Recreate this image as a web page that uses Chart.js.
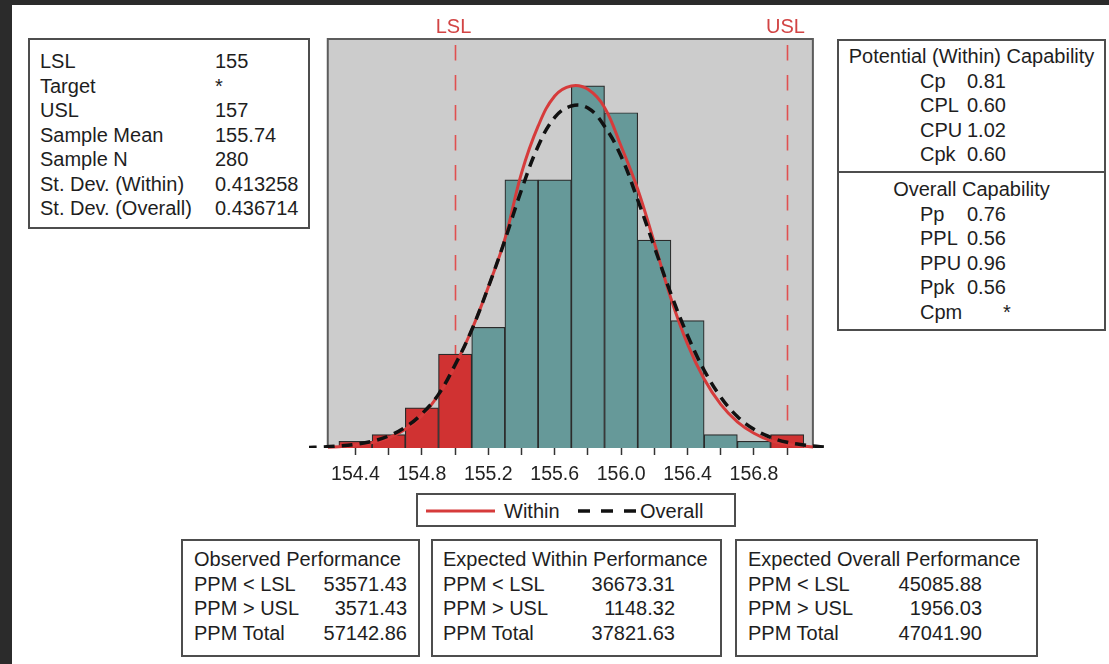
<!DOCTYPE html>
<html>
<head>
  <title>Process Capability Report</title>
  <script src="https://cdn.jsdelivr.net/npm/chart.js"></script>
  <style>
    body { margin: 0; width: 1109px; height: 664px; position: relative; overflow: hidden; background: #fff;
           font-family: "Liberation Sans", Arial, sans-serif; color: #1e1e1e; }
    #capChart { position: absolute; left: 0; top: 0; }
    .edge-top { position: absolute; left: 0; top: 0; width: 1109px; height: 5px; background: #2b2b2b; }
    .edge-left { position: absolute; left: 0; top: 0; width: 12px; height: 664px; background: #2b2b2b; }
    .box { position: absolute; box-sizing: border-box; border: 2px solid #4d4d4d; background: #fff; }
    .row { white-space: nowrap; }
    .row span { display: inline-block; }

    #stats { left: 28px; top: 38px; width: 282px; height: 191px; padding: 9px 0 0 10px; font-size: 20px; line-height: 24.5px; }
    #stats .lab { width: 175px; }

    #capab { left: 837px; top: 39px; width: 269px; height: 292px; font-size: 20px; line-height: 24.5px; }
    #capab .sect { height: 132px; border-bottom: 2px solid #4d4d4d; padding-top: 3px; box-sizing: border-box; }
    #capab .sect2 { padding-top: 4px; }
    #capab .title { text-align: center; }
    #capab .row { padding-left: 81px; }
    #capab .lab { width: 47px; }

    .perf { top: 539px; height: 118px; padding-top: 6px; font-size: 20px; line-height: 24.7px; }
    .perf .row { display: flex; justify-content: space-between; }
    #obs { left: 181px; width: 239px; padding-left: 11px; padding-right: 11px; }
    #expw { left: 431px; width: 291px; padding-left: 10px; padding-right: 45px; }
    #expo { left: 735px; width: 303px; padding-left: 11px; padding-right: 54px; }

    #legend { left: 416px; top: 493px; width: 320px; height: 34px; font-size: 20px; }
    #legend svg { position: absolute; left: 0; top: 0; }
    #legend .t { position: absolute; top: 5px; line-height: 22px; }
  </style>
</head>
<body>
  <canvas id="capChart" width="1109" height="664"></canvas>
  <div class="edge-top"></div>
  <div class="edge-left"></div>

  <div class="box" id="stats">
    <div class="row"><span class="lab">LSL</span><span>155</span></div>
    <div class="row"><span class="lab">Target</span><span>*</span></div>
    <div class="row"><span class="lab">USL</span><span>157</span></div>
    <div class="row"><span class="lab">Sample Mean</span><span>155.74</span></div>
    <div class="row"><span class="lab">Sample N</span><span>280</span></div>
    <div class="row"><span class="lab">St. Dev. (Within)</span><span>0.413258</span></div>
    <div class="row"><span class="lab">St. Dev. (Overall)</span><span>0.436714</span></div>
  </div>

  <div class="box" id="capab">
    <div class="sect">
      <div class="title">Potential (Within) Capability</div>
      <div class="row"><span class="lab">Cp</span><span>0.81</span></div>
      <div class="row"><span class="lab">CPL</span><span>0.60</span></div>
      <div class="row"><span class="lab">CPU</span><span>1.02</span></div>
      <div class="row"><span class="lab">Cpk</span><span>0.60</span></div>
    </div>
    <div class="sect2">
      <div class="title">Overall Capability</div>
      <div class="row"><span class="lab">Pp</span><span>0.76</span></div>
      <div class="row"><span class="lab">PPL</span><span>0.56</span></div>
      <div class="row"><span class="lab">PPU</span><span>0.96</span></div>
      <div class="row"><span class="lab">Ppk</span><span>0.56</span></div>
      <div class="row"><span class="lab">Cpm</span><span style="padding-left: 36px">*</span></div>
    </div>
  </div>

  <div class="box" id="legend">
    <svg width="316" height="30">
      <line x1="8" y1="16" x2="77" y2="16" stroke="#d63b3b" stroke-width="3"/>
      <line x1="160" y1="16" x2="222" y2="16" stroke="#111" stroke-width="3.5" stroke-dasharray="12 11"/>
    </svg>
    <span class="t" style="left: 86px">Within</span>
    <span class="t" style="left: 222px">Overall</span>
  </div>

  <div class="box perf" id="obs">
    <div class="row"><span>Observed Performance</span></div>
    <div class="row"><span>PPM &lt; LSL</span><span>53571.43</span></div>
    <div class="row"><span>PPM &gt; USL</span><span>3571.43</span></div>
    <div class="row"><span>PPM Total</span><span>57142.86</span></div>
  </div>
  <div class="box perf" id="expw">
    <div class="row"><span>Expected Within Performance</span></div>
    <div class="row"><span>PPM &lt; LSL</span><span>36673.31</span></div>
    <div class="row"><span>PPM &gt; USL</span><span>1148.32</span></div>
    <div class="row"><span>PPM Total</span><span>37821.63</span></div>
  </div>
  <div class="box perf" id="expo">
    <div class="row"><span>Expected Overall Performance</span></div>
    <div class="row"><span>PPM &lt; LSL</span><span>45085.88</span></div>
    <div class="row"><span>PPM &gt; USL</span><span>1956.03</span></div>
    <div class="row"><span>PPM Total</span><span>47041.90</span></div>
  </div>

  <script>
    // histogram bins (centres, width 0.2) and counts, N = 280
    const binCenters = [154.4, 154.6, 154.8, 155.0, 155.2, 155.4, 155.6, 155.8, 156.0, 156.2, 156.4, 156.6, 156.8, 157.0];
    const binCounts  = [1, 2, 6, 14, 18, 40, 40, 54, 50, 31, 19, 2, 1, 2];

    // fitted curves
    const curveX = [154.1, 154.2, 154.3, 154.4, 154.5, 154.6, 154.7, 154.8, 154.9, 155.0, 155.1,
                    155.2, 155.3, 155.4, 155.5, 155.6, 155.7, 155.8, 155.9, 156.0, 156.1, 156.2,
                    156.3, 156.4, 156.5, 156.6, 156.7, 156.8, 156.9, 157.0, 157.1, 157.2, 157.3];
    const withinFit = [0.05, 0.1, 0.2, 0.4, 0.8, 1.5, 2.8, 4.8, 7.9, 12.3, 17.6,
                       24.0, 31.2, 41.0, 48.0, 52.5, 54.0, 53.5, 50.8, 45.0, 38.6, 30.6,
                       22.3, 15.5, 10.3, 6.5, 3.9, 2.2, 1.1, 0.55, 0.25, 0.1, 0.04];
    const overallFit = [0.08, 0.15, 0.3, 0.55, 1.0, 1.8, 3.1, 5.1, 8.0, 12.4, 17.6,
                        24.0, 31.0, 38.5, 45.0, 49.3, 51.0, 50.7, 48.0, 43.5, 37.0, 30.0,
                        23.0, 16.8, 11.6, 7.6, 4.7, 2.8, 1.6, 0.85, 0.45, 0.2, 0.09];

    const tickValues = [154.4, 154.6, 154.8, 155.0, 155.2, 155.4, 155.6, 155.8, 156.0, 156.2, 156.4, 156.6, 156.8, 157.0];
    const tickLabels = ['154.4', '154.8', '155.2', '155.6', '156.0', '156.4', '156.8'];

    const LSL = 155, USL = 157;
    const frameMin = 154.233, frameMax = 157.155;   // grey plot panel

    const RED = '#d03232', TEAL = '#669999';

    const panelPlugin = {
      id: 'panel',
      beforeDatasetsDraw(chart) {
        const { ctx, chartArea, scales: { x, y } } = chart;
        const l = x.getPixelForValue(frameMin), r = x.getPixelForValue(frameMax);
        const t = chartArea.top, b = y.getPixelForValue(0);
        ctx.save();
        ctx.fillStyle = '#cccccc';
        ctx.fillRect(l, t, r - l, b - t);
        ctx.strokeStyle = '#5c5c5c';
        ctx.lineWidth = 2;
        ctx.beginPath();
        ctx.moveTo(l, b); ctx.lineTo(l, t); ctx.lineTo(r, t); ctx.lineTo(r, b);
        ctx.stroke();

        // spec limits
        ctx.strokeStyle = '#e05050';
        ctx.lineWidth = 1.6;
        ctx.setLineDash([15.5, 14.5]);
        ctx.fillStyle = '#d24444';
        ctx.font = '20px "Liberation Sans", Arial, sans-serif';
        ctx.textAlign = 'center';
        ctx.textBaseline = 'middle';
        [[LSL, 'LSL'], [USL, 'USL']].forEach(([v, name]) => {
          const px = Math.round(x.getPixelForValue(v)) + 0.5;
          ctx.beginPath();
          ctx.moveTo(px, t + 6);
          ctx.lineTo(px, b);
          ctx.stroke();
          ctx.fillText(name, px - 2, t - 12);
        });
        ctx.restore();
      }
    };

    new Chart(document.getElementById('capChart'), {
      type: 'bar',
      data: {
        datasets: [
          {
            type: 'line',
            label: 'Overall',
            data: curveX.map((v, i) => ({ x: v, y: overallFit[i] })),
            borderColor: '#111111',
            borderWidth: 3.5,
            borderDash: [11, 7],
            pointRadius: 0,
            tension: 0.4,
            order: 1
          },
          {
            type: 'line',
            label: 'Within',
            data: curveX.map((v, i) => ({ x: v, y: withinFit[i] })),
            borderColor: '#d63b3b',
            borderWidth: 3,
            pointRadius: 0,
            tension: 0.4,
            clip: { left: -19, right: -14, top: 0, bottom: 2 },
            order: 2
          },
          {
            label: 'Count',
            data: binCenters.map((v, i) => ({ x: v, y: binCounts[i] })),
            backgroundColor: binCenters.map(v => (v <= LSL || v >= USL) ? RED : TEAL),
            borderColor: '#2b2b2b',
            borderWidth: 1.2,
            barPercentage: 1,
            categoryPercentage: 1,
            order: 3
          }
        ]
      },
      options: {
        responsive: false,
        animation: false,
        layout: { padding: { left: 309, right: 282, top: 39, bottom: 0 } },
        plugins: { legend: { display: false }, tooltip: { enabled: false } },
        scales: {
          x: {
            type: 'linear',
            offset: false,
            min: 154.12,
            max: 157.24,
            afterFit: s => { s.height = 216; },
            afterBuildTicks: s => { s.ticks = tickValues.map(v => ({ value: v })); },
            border: { display: false },
            grid: { offset: false, drawOnChartArea: false, tickLength: 7, tickWidth: 1.5, color: '#333' },
            ticks: {
              autoSkip: false,
              maxRotation: 0,
              padding: 8,
              color: '#222',
              font: { family: '"Liberation Sans", Arial, sans-serif', size: 19.5 },
              callback: v => {
                const s = v.toFixed(1);
                return tickLabels.includes(s) ? s : '';
              }
            }
          },
          y: { display: false, min: 0, max: 61 }
        }
      },
      plugins: [panelPlugin]
    });
  </script>
</body>
</html>
